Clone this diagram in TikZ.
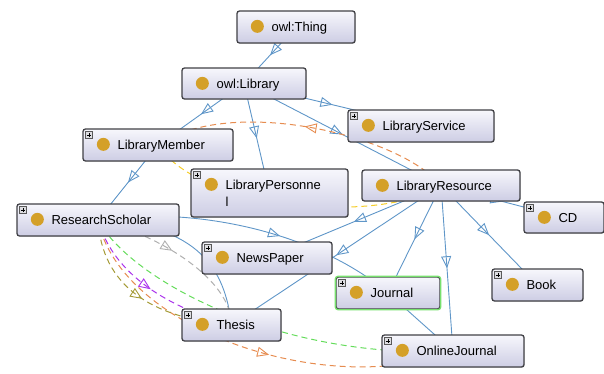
\documentclass[tikz,border=0pt]{standalone}
\usepackage{fontspec}
\setmainfont{Liberation Sans}
\usetikzlibrary{arrows.meta,decorations.markings,shadows,backgrounds}

\definecolor{edgeblue}{RGB}{95,150,200}
\definecolor{dotgold}{RGB}{212,160,40}
\definecolor{boxtop}{RGB}{247,247,252}
\definecolor{boxbot}{RGB}{205,205,228}
\definecolor{boxline}{RGB}{65,65,70}
\definecolor{selgreen}{RGB}{120,225,110}
\definecolor{arcorange}{RGB}{230,140,80}
\definecolor{arcolive}{RGB}{165,155,55}
\definecolor{arcpurple}{RGB}{170,50,235}
\definecolor{arcgray}{RGB}{175,175,175}
\definecolor{arcgreen}{RGB}{100,220,90}
\definecolor{arcyellow}{RGB}{245,205,40}

\tikzset{
  classnode/.style={draw=boxline, line width=1.3pt, rounded corners=2.5pt, top color=boxtop, bottom color=boxbot, inner sep=0pt, drop shadow={opacity=0.2, shadow xshift=0.8pt, shadow yshift=-0.8pt}},
  classlabel/.style={anchor=base west, inner sep=0pt, font=\fontsize{13}{15}\selectfont},
  plusbox/.style={draw=gray!70!black, fill=blue!6!gray!25, line width=0.5pt},
  isa/.style={edgeblue, line width=0.9pt},
  midarrow/.style={postaction={decorate, decoration={markings, mark=at position #1 with {\arrow{Triangle[open, length=12pt, width=10pt, line width=0.9pt]}}}}},
  midarrow/.default=0.5,
  objprop/.style={line width=1pt, dash pattern=on 6pt off 4pt},
}

% box: name, left, top, width, height, text
\newcommand{\classbox}[6]{%
  \node[classnode, minimum width=#4pt, minimum height=#5pt] (#1) at ({#2+#4/2},{#3+#5/2}) {};
  \fill[dotgold] ([xshift=21pt,yshift=-16pt]#1.north west) circle (6.5pt);
  \node[classlabel] (#1-txt) at ([xshift=35pt,yshift=-21pt]#1.north west) {#6};
}
\newcommand{\plusicon}[1]{%
  \draw[plusbox] ([xshift=3pt,yshift=-3pt]#1.north west) rectangle ++(7pt,-7pt);
  \draw[line width=0.6pt] ([xshift=4.6pt,yshift=-6.5pt]#1.north west) -- ++(3.8pt,0pt);
  \draw[line width=0.6pt] ([xshift=6.5pt,yshift=-4.6pt]#1.north west) -- ++(0pt,-3.8pt);
}

\begin{document}
\begin{tikzpicture}[x=1pt, y=-1pt]
\useasboundingbox (0,0) rectangle (604,374);

% classes
\classbox{thing}{237}{11}{118}{32}{owl:Thing}
\classbox{lib}{182}{68}{124}{31}{owl:Library}
\classbox{ls}{348}{110}{146}{32}{LibraryService}
\classbox{lm}{83}{129}{150}{32}{LibraryMember}
\classbox{lp}{191}{169}{157}{48}{LibraryPersonne}
\node[classlabel] (lp-txt2) at ([xshift=35pt,yshift=-38pt]lp.north west) {l};
\classbox{lr}{362}{170}{158}{31}{LibraryResource}
\classbox{cd}{524}{202}{80}{31}{CD}
\classbox{rs}{17}{204}{162}{32}{ResearchScholar}
\classbox{np}{202}{242}{130}{32}{NewsPaper}
\classbox{bk}{492}{269}{91}{32}{Book}
\classbox{th}{182}{309}{99}{32}{Thesis}
\classbox{oj}{382}{335}{142}{32}{OnlineJournal}
\classbox{jo}{336}{277}{104}{32}{Journal}
\draw[selgreen, line width=1.3pt, rounded corners=2.5pt] (jo.north west) rectangle (jo.south east);

\plusicon{ls}
\plusicon{lm}
\plusicon{lp}
\plusicon{cd}
\plusicon{rs}
\plusicon{np}
\plusicon{bk}
\plusicon{th}
\plusicon{oj}
\plusicon{jo}

\begin{pgfonlayer}{background}
% subclass links
\draw[isa, midarrow] (thing.center) -- (lib.center);
\draw[isa, midarrow] (lib.center) -- (lm.center);
\draw[isa, midarrow] (lib.center) -- (lp.center);
\draw[isa, midarrow] (lib.center) -- (ls.center);
\draw[isa, midarrow] (lib.center) -- (lr.center);
\draw[isa, midarrow] (lm.center) -- (rs.center);
\draw[isa, midarrow] (lr.center) -- (cd.center);
\draw[isa, midarrow] (lr.center) -- (np.center);
\draw[isa, midarrow] (lr.center) -- (th.center);
\draw[isa, midarrow] (lr.center) -- (jo.center);
\draw[isa, midarrow] (lr.center) -- (oj.center);
\draw[isa, midarrow] (lr.center) -- (bk.center);
\draw[isa] (jo.center) -- (oj.center);
\draw[isa, midarrow=0.6] (rs.center) .. controls (200,205) and (320,235) .. (jo.center);
\draw[isa, midarrow=0.38] (rs.center) .. controls (200,225) and (225,270) .. (th.center);

% object properties
\draw[objprop, arcyellow] (lm.center) .. controls (200,210) and (380,225) .. (lr.center);
\draw[objprop, arcorange, midarrow] (lr.center) .. controls (400,135) and (230,95) .. (lm.center);
\draw[objprop, arcorange, midarrow=0.55] (rs.center) .. controls (120,330) and (330,400) .. (oj.center);
\draw[objprop, arcgreen] (rs.center) .. controls (130,280) and (280,360) .. (oj.center);
\draw[objprop, arcolive, midarrow] (rs.center) .. controls (102,285) and (150,318) .. (th.center);
\draw[objprop, arcpurple, midarrow] (rs.center) .. controls (112,270) and (160,305) .. (th.center);
\draw[objprop, arcgray, midarrow=0.45] (rs.center) .. controls (160,235) and (232,280) .. (th.center);
\end{pgfonlayer}
\end{tikzpicture}
\end{document}
